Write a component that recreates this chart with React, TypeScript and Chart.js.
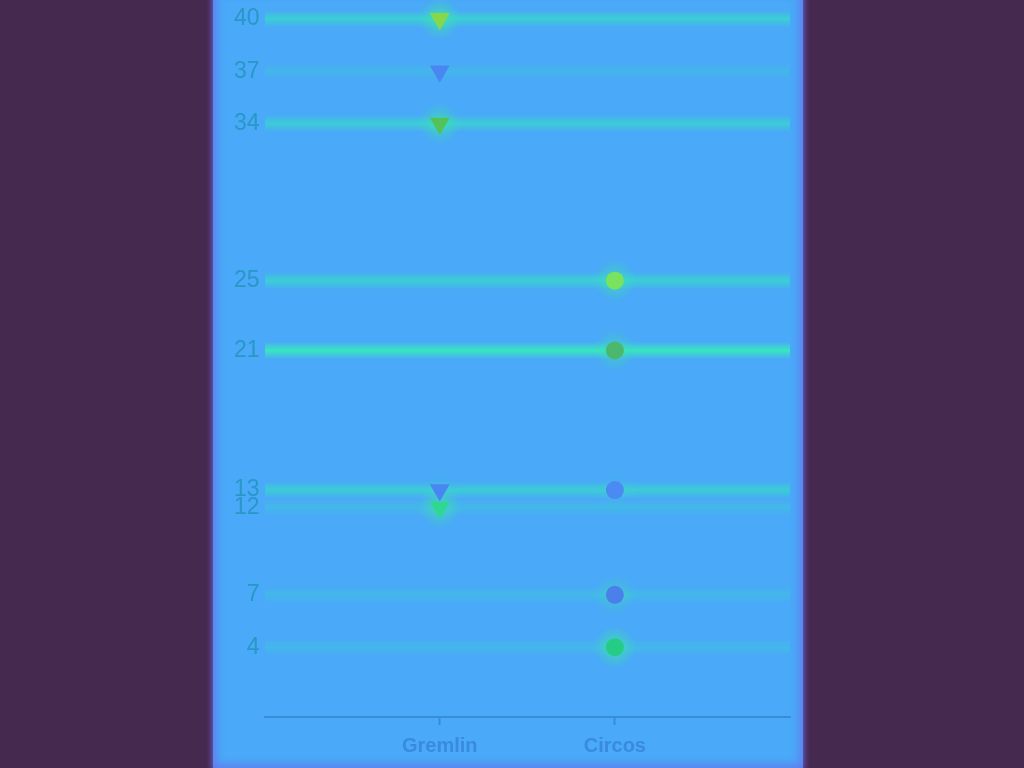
import React, { useEffect, useRef } from "react";
import { Chart, registerables } from "chart.js";

Chart.register(...registerables);

const categories = ["Gremlin", "Circos"];
const gremlinValues = [40, 37, 34, 13, 12];
const circosValues = [25, 21, 13, 7, 4];
const yTickValues = [4, 7, 12, 13, 21, 25, 34, 37, 40];

const gremlinColors = ["#86d84a", "#4a86f2", "#52c25a", "#4a86f2", "#2fd890"];
const circosColors = ["#7ae25e", "#4cb86e", "#4a8af2", "#4b80ea", "#24cc86"];
const gremlinGlow = [0.7, 0, 0.6, 0.1, 0.6];
const circosGlow = [0.6, 0.5, 0.1, 0.35, 0.75];

const gridStrength: Record<number, number> = { 40: 0.85, 37: 0.3, 34: 0.8, 25: 0.85, 21: 0.95, 13: 0.8, 12: 0.35, 7: 0.35, 4: 0.35 };

const glowPlugin = {
  id: "glow",
  beforeDatasetsDraw(chart: any) {
    const ctx = chart.ctx;
    const glows = [gremlinGlow, circosGlow];
    chart.data.datasets.forEach((_: any, di: number) => {
      const meta = chart.getDatasetMeta(di);
      meta.data.forEach((el: any, i: number) => {
        const a = glows[di][i];
        if (!a) return;
        const g = ctx.createRadialGradient(el.x, el.y, 0, el.x, el.y, 22);
        g.addColorStop(0, `rgba(70,235,150,${a})`);
        g.addColorStop(0.5, `rgba(60,225,170,${a * 0.6})`);
        g.addColorStop(1, "rgba(60,210,200,0)");
        ctx.save();
        ctx.fillStyle = g;
        ctx.beginPath();
        ctx.arc(el.x, el.y, 22, 0, Math.PI * 2);
        ctx.fill();
        ctx.restore();
      });
    });
  },
};

export default function App() {
  const ref = useRef<HTMLCanvasElement | null>(null);

  useEffect(() => {
    if (!ref.current) return;
    const chart = new Chart(ref.current, {
      type: "scatter",
      data: {
        datasets: [
          {
            label: categories[0],
            data: gremlinValues.map((v) => ({ x: 1, y: v })),
            pointStyle: "triangle",
            rotation: 180,
            pointRadius: 11.5,
            pointBackgroundColor: gremlinColors,
            pointBorderWidth: 0,
            clip: false,
          },
          {
            label: categories[1],
            data: circosValues.map((v) => ({ x: 2, y: v })),
            pointStyle: "circle",
            pointRadius: 9,
            pointBackgroundColor: circosColors,
            pointBorderWidth: 0,
            clip: false,
          },
        ],
      },
      options: {
        animation: false,
        responsive: true,
        maintainAspectRatio: false,
        layout: { padding: { left: 16, right: 13, top: 0, bottom: 1 } },
        plugins: { legend: { display: false }, tooltip: { enabled: false } },
        scales: {
          x: {
            type: "linear",
            min: 0,
            max: 3,
            afterBuildTicks: (scale: any) => {
              scale.ticks = categories.map((_, i) => ({ value: i + 1 }));
            },
            ticks: {
              callback: (v: any) => categories[Number(v) - 1] ?? "",
              color: "#3a8bdc",
              font: { family: "'Liberation Sans', Arial, sans-serif", size: 20, weight: "bold" },
              padding: 9,
            },
            grid: { drawOnChartArea: false, drawTicks: true, tickLength: 8, tickColor: "#3a8ad8", tickWidth: 2 },
            border: { display: true, color: "#3a8cd8", width: 2 },
          },
          y: {
            type: "linear",
            min: 0,
            max: 40,
            afterBuildTicks: (scale: any) => {
              scale.ticks = yTickValues.map((v) => ({ value: v }));
            },
            ticks: {
              autoSkip: false,
              color: "#2898c4",
              font: { family: "'Liberation Sans', Arial, sans-serif", size: 23 },
              padding: 5,
            },
            grid: {
              drawTicks: false,
              lineWidth: 18,
              color: (ctx: any) => {
                const v = ctx.tick?.value;
                const s = gridStrength[v] ?? 0.3;
                const sc = ctx.chart.scales.y;
                const y = sc.getPixelForValue(v);
                if (!isFinite(y)) return "rgba(0,0,0,0)";
                const g = ctx.chart.ctx.createLinearGradient(0, y - 9, 0, y + 9);
                const rgb = v === 21 ? "56,234,188" : "56,214,205";
                g.addColorStop(0, `rgba(${rgb},0)`);
                g.addColorStop(0.3, `rgba(${rgb},${s * 0.6})`);
                g.addColorStop(0.5, `rgba(${rgb},${s})`);
                g.addColorStop(0.7, `rgba(${rgb},${s * 0.6})`);
                g.addColorStop(1, `rgba(${rgb},0)`);
                return g;
              },
            },
            border: { display: false },
          },
        },
      },
      plugins: [glowPlugin],
    });
    return () => chart.destroy();
  }, []);

  return (
    <div style={{ position: "fixed", inset: 0, background: "#46294f", overflow: "hidden" }}>
      <div
        style={{
          position: "absolute",
          left: 213,
          top: -10,
          width: 590,
          height: 778,
          background: "#4aa9f8",
          boxShadow: "0 0 5px 2px rgba(100,105,225,0.7), inset 0 0 8px 3px rgba(105,110,235,0.8)",
        }}
      >
        <div style={{ position: "absolute", left: 0, top: 10, width: 590, height: 768 }}>
          <canvas ref={ref} />
        </div>
      </div>
    </div>
  );
}
